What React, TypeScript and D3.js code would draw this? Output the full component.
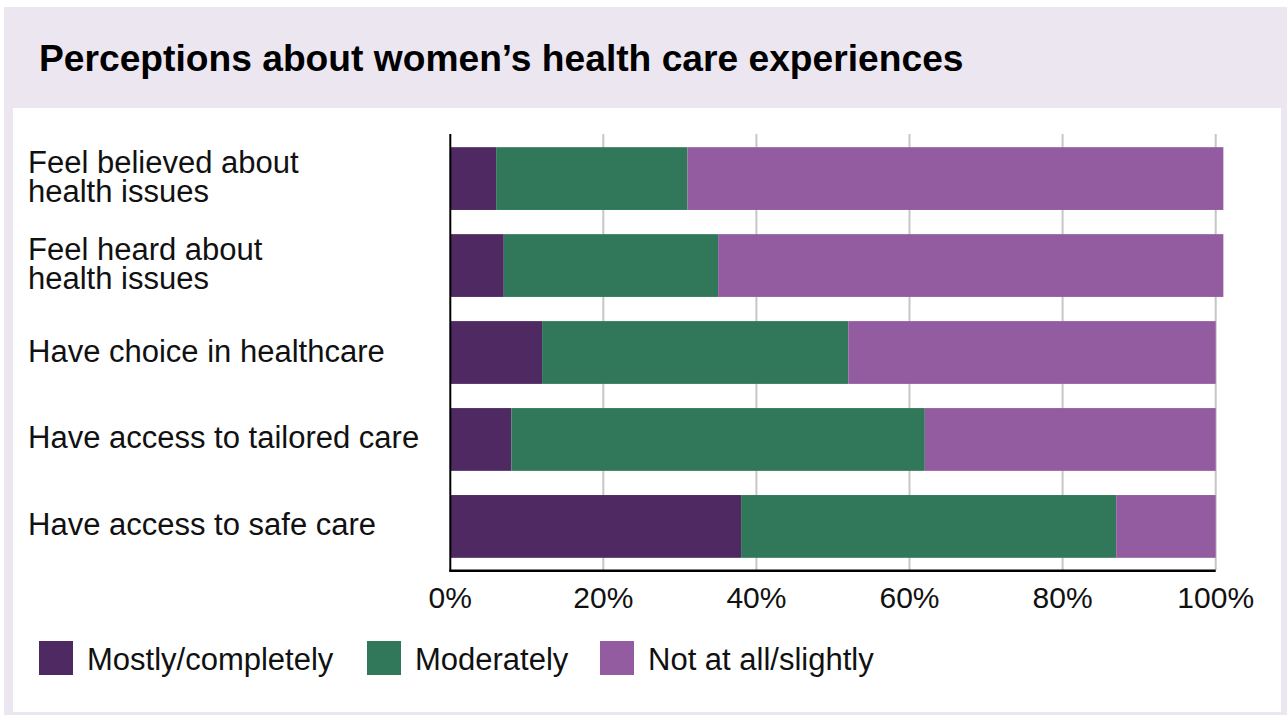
import React from "react";
import * as d3 from "d3";

const categories: string[][] = [
  ["Feel believed about", "health issues"],
  ["Feel heard about", "health issues"],
  ["Have choice in healthcare"],
  ["Have access to tailored care"],
  ["Have access to safe care"],
];
const seriesNames = ["Mostly/completely", "Moderately", "Not at all/slightly"];
const mostly = [6, 7, 12, 8, 38];
const moderately = [25, 28, 40, 54, 49];
const notAtAll = [70, 66, 48, 38, 13];
const tickValues = [0, 20, 40, 60, 80, 100];
const colors = ["#4e2962", "#31785a", "#945ca0"];
const title = "Perceptions about women\u2019s health care experiences";

const W = 1287;
const H = 715;
const FONT = "'Liberation Sans', Arial, Helvetica, sans-serif";

export default function App() {
  const x = d3.scaleLinear().domain([0, 100]).range([450.2, 1215.7]);
  const y = d3
    .scaleBand<number>()
    .domain(d3.range(categories.length))
    .range([135, 570])
    .paddingInner(0.278)
    .paddingOuter(0.14);

  const rows = categories.map((c, i) => ({
    i,
    Mostly: mostly[i],
    Moderately: moderately[i],
    Not: notAtAll[i],
  }));
  const stack = d3.stack<any>().keys(["Mostly", "Moderately", "Not"]);
  const layers = stack(rows);

  const legendX = [39, 367, 600];
  const lineH = 29.5;

  return (
    <svg
      width={W}
      height={H}
      style={{ position: "absolute", left: 0, top: 0, display: "block" }}
      fontFamily={FONT}
    >
      <rect x={0} y={0} width={W} height={H} fill="#ffffff" />
      <rect x={4} y={7} width={W - 4} height={H - 7} fill="#ece6f1" />
      <rect x={13} y={108} width={1281 - 13} height={712 - 108} fill="#ffffff" />
      <text x={39} y={71} fontSize={37.2} fontWeight="bold" fill="#000">
        {title}
      </text>

      {/* gridlines */}
      {tickValues
        .filter((t) => t > 0)
        .map((t) => (
          <line
            key={"g" + t}
            x1={x(t)}
            x2={x(t)}
            y1={134}
            y2={570}
            stroke="#c6c6c6"
            strokeWidth={2}
          />
        ))}

      {/* bars */}
      {layers.map((layer, k) =>
        layer.map((d, i) => (
          <rect
            key={k + "-" + i}
            x={x(d[0])}
            width={x(d[1]) - x(d[0])}
            y={y(i)!}
            height={y.bandwidth()}
            fill={colors[k]}
          />
        ))
      )}

      {/* axes */}
      <line x1={450.3} x2={450.3} y1={134} y2={571.5} stroke="#000" strokeWidth={2} />
      <line x1={449.3} x2={x(100)} y1={570.7} y2={570.7} stroke="#000" strokeWidth={2.4} />

      {/* tick labels */}
      {tickValues.map((t) => (
        <text
          key={"t" + t}
          x={x(t)}
          y={608}
          fontSize={30}
          textAnchor="middle"
          fill="#111"
        >
          {t + "%"}
        </text>
      ))}

      {/* category labels */}
      {categories.map((lines, i) => {
        const c = y(i)! + y.bandwidth() / 2;
        const n = lines.length;
        return (
          <text key={"c" + i} x={28} fontSize={31} fill="#111">
            {lines.map((l, j) => (
              <tspan key={j} x={28} y={c + 9 + (j - (n - 1) / 2) * lineH}>
                {l}
              </tspan>
            ))}
          </text>
        );
      })}

      {/* legend */}
      {seriesNames.map((s, k) => (
        <g key={"l" + k} transform={`translate(${legendX[k]},641)`}>
          <rect x={0} y={0} width={34} height={34} fill={colors[k]} />
          <text x={48} y={29} fontSize={31} fill="#111">
            {s}
          </text>
        </g>
      ))}
    </svg>
  );
}
